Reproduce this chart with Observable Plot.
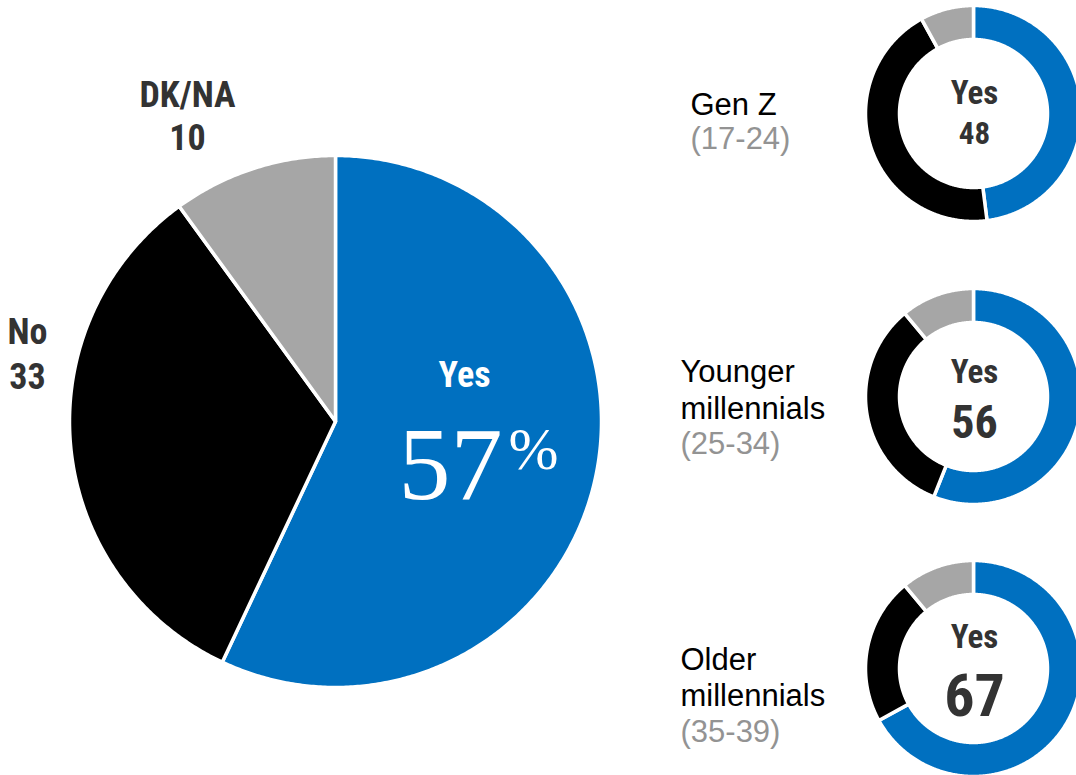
<!DOCTYPE html>
<html>
<head>
<meta charset="utf-8">
<script src="https://cdn.jsdelivr.net/npm/d3@7"></script>
<script src="https://cdn.jsdelivr.net/npm/@observablehq/plot@0.6"></script>
<style>
  html, body { margin: 0; padding: 0; background: #fff; }
  #chart svg { display: block; }
</style>
</head>
<body>
<div id="chart"></div>
<script>
// ---------- data ----------
const answers = ["Yes", "No", "DK/NA"];
const answerColors = ["#0070C0", "#000000", "#A6A6A6"];
const totalValues = [57, 33, 10];

const groups = ["Gen Z", "Younger millennials", "Older millennials"];
const groupAges = ["(17-24)", "(25-34)", "(35-39)"];
const groupYes = [48, 56, 67];
const groupNo = [44, 33, 22];
const groupDK = [8, 11, 11];

// ---------- layout ----------
const W = 1076, H = 775;
const bigPie = {cx: 335, cy: 421, r: 266};
const donut = {cx: 973, r0: 74, r1: 108, cys: [113, 396, 668]};
const narrow = "'Liberation Sans Narrow', 'Arial Narrow', 'Roboto Condensed', sans-serif";
const sans = "'Liberation Sans', Arial, sans-serif";
const serif = "'Liberation Serif', 'Times New Roman', serif";

function ringPoints(chartId, values, cx, cy, r0, r1) {
  const arcs = d3.pie().sort(null).value(d => d)(values);
  const pts = [];
  arcs.forEach((a, i) => {
    const id = chartId + "-" + i;
    const n = Math.max(2, Math.ceil((a.endAngle - a.startAngle) / (Math.PI / 360)));
    const ring = [];
    for (let k = 0; k <= n; k++) {
      const t = a.startAngle + (a.endAngle - a.startAngle) * k / n;
      ring.push([cx + r1 * Math.sin(t), cy - r1 * Math.cos(t)]);
    }
    if (r0 > 0) {
      for (let k = n; k >= 0; k--) {
        const t = a.startAngle + (a.endAngle - a.startAngle) * k / n;
        ring.push([cx + r0 * Math.sin(t), cy - r0 * Math.cos(t)]);
      }
    } else {
      ring.push([cx, cy]);
    }
    ring.push(ring[0]);
    ring.forEach(p => pts.push({id, answer: answers[i], x: p[0], y: p[1]}));
  });
  return pts;
}

let slices = ringPoints("total", totalValues, bigPie.cx, bigPie.cy, 0, bigPie.r);
groups.forEach((g, j) => {
  slices = slices.concat(ringPoints("g" + j, [groupYes[j], groupNo[j], groupDK[j]], donut.cx, donut.cys[j], donut.r0, donut.r1));
});

// labels for big pie
const bigOutside = [
  {name: answers[2], value: String(totalValues[2]), x: 187, y1: 106, y2: 149},
  {name: answers[1], value: String(totalValues[1]), x: 27, y1: 343, y2: 388}
];

// donut centre labels
const donutNumSizes = [31, 46, 60];
const donutYesY = [103, 382, 647];
const donutNumY = [143, 437, 715];
const donutCenter = groups.map((g, j) => ({
  yes: answers[0], num: String(groupYes[j]), x: donut.cx + 1, y1: donutYesY[j], y2: donutNumY[j], size: donutNumSizes[j]
}));

// group name labels
const nameLines = [];
const ageLines = [];
const groupLayout = [
  {x: 690, lines: [114], age: 148},
  {x: 680, lines: [381, 418], age: 453},
  {x: 680, lines: [669, 705], age: 741}
];
groups.forEach((g, j) => {
  const L = groupLayout[j];
  const words = j === 0 ? [g] : g.split(" ");
  words.forEach((w, k) => nameLines.push({text: w, x: L.x, y: L.lines[k]}));
  ageLines.push({text: groupAges[j], x: L.x, y: L.age});
});

const plot = Plot.plot({
  width: W,
  height: H,
  margin: 0,
  x: {domain: [0, W], range: [0, W], axis: null},
  y: {domain: [0, H], range: [0, H], axis: null},
  color: {domain: answers, range: answerColors},
  marks: [
    Plot.line(slices, {x: "x", y: "y", z: "id", fill: "answer", stroke: "white", strokeWidth: 3.5, strokeLinejoin: "round", curve: "linear"}),
    // big pie outside labels
    Plot.text(bigOutside, {x: "x", y: "y1", text: "name", fontFamily: narrow, fontWeight: "bold", fontSize: 36, fill: "#333", textAnchor: "middle", lineAnchor: "bottom"}),
    Plot.text(bigOutside, {x: "x", y: "y2", text: "value", fontFamily: narrow, fontWeight: "bold", fontSize: 36, fill: "#333", textAnchor: "middle", lineAnchor: "bottom"}),
    // big pie Yes label
    Plot.text([answers[0]], {x: () => 464, y: () => 386, text: d => d, fontFamily: narrow, fontWeight: "bold", fontSize: 36, fill: "white", textAnchor: "middle", lineAnchor: "bottom"}),
    Plot.text([totalValues[0]], {x: () => 502, y: () => 498, text: d => String(d), fontFamily: serif, fontSize: 104, fill: "white", textAnchor: "end", lineAnchor: "bottom"}),
    Plot.text(["%"], {x: () => 508, y: () => 468, text: d => d, fontFamily: serif, fontSize: 60, fill: "white", textAnchor: "start", lineAnchor: "bottom"}),
    // donut centres
    Plot.text(donutCenter, {x: "x", y: "y1", text: "yes", fontFamily: narrow, fontWeight: "bold", fontSize: 33, fill: "#333", textAnchor: "middle", lineAnchor: "bottom"}),
    Plot.text(donutCenter, {x: "x", y: "y2", text: "num", fontFamily: narrow, fontWeight: "bold", fontSize: d => d.size, fill: "#333", textAnchor: "middle", lineAnchor: "bottom"}),
    // group names
    Plot.text(nameLines, {x: "x", y: "y", text: "text", fontFamily: sans, fontSize: 31, fill: "#000", textAnchor: "start", lineAnchor: "bottom"}),
    Plot.text(ageLines, {x: "x", y: "y", text: "text", fontFamily: sans, fontSize: 31, fill: "#939393", textAnchor: "start", lineAnchor: "bottom"})
  ]
});
document.getElementById("chart").appendChild(plot);
</script>
</body>
</html>
